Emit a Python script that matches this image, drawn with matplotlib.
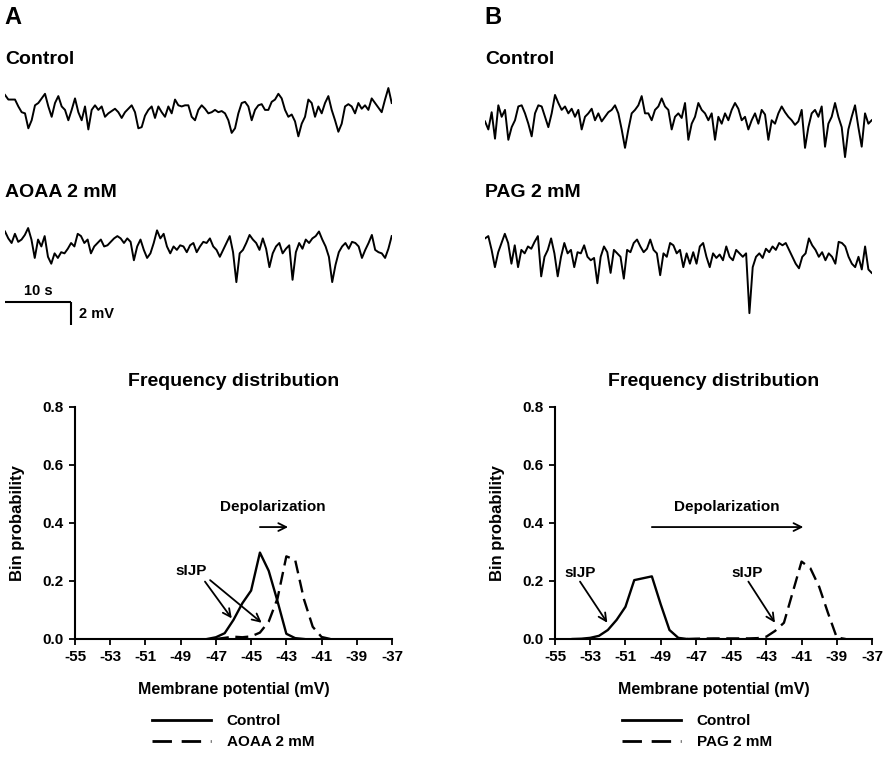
import numpy as np
import matplotlib
matplotlib.use("Agg")
import matplotlib.pyplot as plt
from matplotlib.lines import Line2D

plt.rcParams['font.family'] = ['Liberation Sans', 'DejaVu Sans']
plt.rcParams['font.weight'] = 'bold'
plt.rcParams['axes.labelweight'] = 'bold'
plt.rcParams['axes.unicode_minus'] = False

# ---------------- data: membrane potential traces (mV, relative) ----------------
TRACE_DURATION_S = 58.9
trace_a_control = [-1.3, -1.7, -1.7, -1.7, -2.3, -2.8, -2.9, -4.2, -3.5, -2.2,
                   -2.0, -1.6, -1.2, -2.3, -3.2, -2.0, -1.4, -2.3, -2.6, -3.5,
                   -2.6, -1.6, -2.8, -3.5, -2.3, -4.3, -2.6, -2.2, -2.6, -2.3,
                   -3.2, -2.9, -2.7, -2.5, -2.8, -3.3, -2.8, -2.5, -2.2, -2.8,
                   -4.2, -4.1, -3.1, -2.6, -2.3, -3.3, -2.3, -2.8, -3.2, -2.3,
                   -2.9, -1.7, -2.2, -2.3, -2.2, -2.2, -3.2, -3.5, -2.6, -2.2,
                   -2.5, -2.9, -2.8, -2.6, -2.8, -2.7, -2.9, -3.5, -4.6, -4.2,
                   -2.9, -2.0, -1.9, -2.3, -3.5, -2.6, -2.2, -2.1, -2.6, -2.6,
                   -1.9, -1.7, -1.2, -1.6, -2.6, -3.2, -3.0, -3.6, -4.9, -3.8,
                   -3.2, -1.7, -2.0, -3.2, -2.3, -2.9, -2.0, -1.4, -2.6, -3.5,
                   -4.5, -3.8, -2.3, -2.1, -2.3, -2.9, -2.0, -2.5, -2.2, -2.6,
                   -1.6, -2.0, -2.4, -2.8, -1.7, -0.7, -2.0]
trace_a_aoaa = [-1.0, -1.6, -2.0, -1.2, -1.9, -1.7, -1.3, -0.7, -1.7, -3.3,
                -1.7, -2.3, -1.4, -3.2, -3.8, -2.9, -3.3, -2.8, -2.9, -2.5,
                -2.0, -2.3, -1.2, -1.4, -2.0, -1.7, -2.9, -2.3, -2.0, -1.7,
                -2.3, -2.2, -1.9, -1.6, -1.4, -1.6, -2.0, -1.6, -1.9, -3.5,
                -2.3, -1.7, -2.6, -3.3, -2.9, -2.0, -0.9, -1.6, -1.2, -2.3,
                -2.9, -2.3, -2.6, -2.2, -2.3, -2.8, -2.2, -2.0, -2.8, -2.3,
                -1.9, -2.0, -1.6, -2.3, -2.6, -3.2, -2.6, -2.0, -1.4, -2.8,
                -5.4, -2.9, -2.6, -2.0, -1.3, -1.7, -2.0, -2.6, -1.6, -2.5,
                -4.1, -2.9, -2.3, -2.0, -2.9, -2.5, -2.2, -5.2, -2.8, -2.0,
                -2.5, -1.7, -2.0, -1.6, -1.4, -1.0, -1.7, -2.3, -3.2, -5.4,
                -3.9, -2.8, -2.3, -2.0, -2.5, -1.9, -2.0, -2.3, -3.3, -2.6,
                -2.0, -1.3, -2.6, -2.8, -2.9, -3.3, -2.5, -1.4]
trace_b_control = [-3.6, -4.3, -2.8, -5.1, -2.2, -3.2, -2.6, -5.2, -4.1, -3.5,
                   -2.3, -2.2, -2.9, -3.8, -4.9, -2.9, -2.2, -2.3, -3.2, -4.1,
                   -2.9, -1.3, -2.0, -2.6, -2.3, -2.9, -2.5, -3.2, -2.6, -4.3,
                   -3.2, -2.9, -2.5, -3.5, -2.9, -3.6, -3.2, -2.8, -2.6, -2.2,
                   -2.9, -4.3, -5.9, -4.3, -2.9, -2.6, -2.2, -1.4, -2.9, -2.9,
                   -3.5, -2.6, -2.3, -1.6, -2.3, -2.6, -4.3, -3.2, -2.9, -3.3,
                   -2.0, -5.2, -3.8, -3.2, -2.0, -2.6, -2.9, -3.5, -2.9, -5.2,
                   -3.2, -3.8, -2.9, -3.5, -2.6, -2.0, -2.5, -3.5, -3.2, -4.3,
                   -3.5, -2.9, -3.8, -2.6, -3.0, -5.2, -3.5, -3.8, -2.9, -2.3,
                   -2.8, -3.2, -3.5, -3.9, -3.6, -2.6, -5.9, -4.1, -2.9, -2.6,
                   -3.2, -2.3, -5.8, -3.8, -3.2, -2.0, -3.2, -4.1, -6.7, -4.3,
                   -3.2, -2.2, -4.1, -5.8, -2.9, -3.8, -3.5]
trace_b_pag = [-1.6, -1.4, -2.6, -4.1, -2.8, -2.0, -1.2, -2.0, -3.8, -2.2,
               -4.1, -2.6, -2.9, -2.3, -2.5, -1.9, -1.4, -4.9, -3.2, -2.6,
               -1.6, -2.9, -4.9, -3.2, -2.0, -2.9, -2.6, -4.1, -2.8, -2.9,
               -2.2, -3.2, -3.5, -3.3, -5.5, -3.2, -2.3, -2.8, -4.6, -2.6,
               -2.9, -3.2, -5.1, -2.6, -2.8, -2.0, -1.7, -2.3, -2.8, -2.5,
               -1.7, -2.6, -2.9, -4.8, -2.9, -3.2, -2.0, -2.2, -2.9, -2.6,
               -4.1, -2.9, -3.8, -2.8, -3.8, -2.3, -2.0, -3.2, -4.1, -2.9,
               -3.3, -3.0, -3.5, -2.3, -3.2, -3.5, -2.6, -2.9, -3.2, -2.9,
               -8.1, -4.1, -3.2, -2.9, -3.3, -2.5, -2.8, -2.3, -2.6, -2.0,
               -2.2, -2.0, -2.6, -3.2, -3.8, -4.2, -3.2, -2.9, -1.6, -2.2,
               -2.6, -3.2, -2.8, -3.5, -2.9, -3.2, -3.8, -1.9, -2.0, -2.3,
               -3.2, -3.8, -4.1, -3.2, -4.3, -2.3, -4.3, -4.6]

SCALE_T_S = 10
SCALE_V_MV = 2

# ---------------- data: frequency distributions ----------------
a_ctrl_mv = [-47.5, -47, -46.5, -46, -45.5, -45, -44.5, -44, -43.5, -43, -42.5, -42]
a_ctrl_p = [0.0, 0.006, 0.02, 0.066, 0.123, 0.167, 0.298, 0.235, 0.13, 0.018, 0.003, 0.0]
a_aoaa_mv = [-47, -46.5, -46, -45.5, -45, -44.5, -44, -43.5, -43, -42.5, -42, -41.5, -41, -40.5]
a_aoaa_p = [0.0, 0.004, 0.008, 0.006, 0.009, 0.022, 0.06, 0.14, 0.285, 0.273, 0.137, 0.042, 0.007, 0.0]
b_ctrl_mv = [-54, -53.5, -53, -52.5, -52, -51.5, -51, -50.5, -49.5, -49, -48.5, -48, -47.5]
b_ctrl_p = [0.0, 0.001, 0.004, 0.011, 0.031, 0.066, 0.111, 0.203, 0.216, 0.12, 0.031, 0.004, 0.0]
b_pag_mv = [-47.5, -47, -46, -45, -44, -43.5, -43, -42.5, -42, -41, -40.5, -40, -39.5, -39, -38.5]
b_pag_p = [0.0, 0.001, 0.002, 0.002, 0.002, 0.003, 0.008, 0.028, 0.056, 0.267, 0.244, 0.18, 0.09, 0.005, 0.0]

x_ticks = [-55, -53, -51, -49, -47, -45, -43, -41, -39, -37]
y_ticks = [0.0, 0.2, 0.4, 0.6, 0.8]

# ---------------- figure ----------------
W, H = 886, 760
fig = plt.figure(figsize=(W / 100, H / 100), dpi=100)


def px_axes(x0, y0, x1, y1):
    return fig.add_axes([x0 / W, 1 - y1 / H, (x1 - x0) / W, (y1 - y0) / H])


PX_PER_MV = 11.5


def trace_axes(x0, y0, x1, y1, values):
    ax = px_axes(x0, y0, x1, y1)
    t = np.linspace(0, TRACE_DURATION_S, len(values))
    ax.plot(t, values, color='black', lw=1.4)
    ax.set_xlim(0, TRACE_DURATION_S)
    ax.set_ylim(-(y1 - y0) / PX_PER_MV, 0)
    ax.axis('off')
    return ax


trace_axes(5, 80, 391.7, 140, trace_a_control)
ax_aoaa = trace_axes(5, 220, 391.7, 335, trace_a_aoaa)
trace_axes(485, 80, 871.7, 170, trace_b_control)
trace_axes(485, 220, 871.7, 320, trace_b_pag)

# scale bar
bar_v = -(302 - 220) / PX_PER_MV
ax_aoaa.plot([0, SCALE_T_S], [bar_v, bar_v], color='black', lw=1.5, solid_capstyle='butt')
ax_aoaa.plot([SCALE_T_S, SCALE_T_S], [bar_v, bar_v - SCALE_V_MV], color='black', lw=1.5,
             solid_capstyle='butt')
ax_aoaa.annotate(f'{SCALE_T_S} s', xy=(SCALE_T_S / 2, bar_v), xytext=(0, 3),
                 textcoords='offset points', ha='center', va='bottom', fontsize=10.5)
ax_aoaa.annotate(f'{SCALE_V_MV} mV', xy=(SCALE_T_S, bar_v - SCALE_V_MV / 2), xytext=(6, 0),
                 textcoords='offset points', ha='left', va='center', fontsize=10.5)

# panel letters and trace labels
fig.text(4 / W, 1 - 24 / H, 'A', fontsize=17, va='baseline', ha='left')
fig.text(484 / W, 1 - 24 / H, 'B', fontsize=17, va='baseline', ha='left')
fig.text(5 / W, 1 - 64 / H, 'Control', fontsize=14, va='baseline', ha='left')
fig.text(485 / W, 1 - 64 / H, 'Control', fontsize=14, va='baseline', ha='left')
fig.text(5 / W, 1 - 197 / H, 'AOAA 2 mM', fontsize=14, va='baseline', ha='left')
fig.text(485 / W, 1 - 197 / H, 'PAG 2 mM', fontsize=14, va='baseline', ha='left')


def dist_axes(x0, y0, x1, y1):
    ax = px_axes(x0, y0, x1, y1)
    ax.set_xlim(-55, -37)
    ax.set_ylim(0, 0.8)
    ax.set_xticks(x_ticks)
    ax.set_yticks(y_ticks)
    ax.set_yticklabels([f'{v:.1f}' for v in y_ticks])
    for s in ['top', 'right']:
        ax.spines[s].set_visible(False)
    for s in ['left', 'bottom']:
        ax.spines[s].set_linewidth(1.5)
    ax.tick_params(direction='out', length=4.5, width=1.3, labelsize=11, pad=3.5)
    ax.set_xlabel('Membrane potential (mV)', fontsize=11.5)
    ax.xaxis.set_label_coords(0.5, -0.185)
    ax.set_ylabel('Bin probability', fontsize=12)
    ax.yaxis.set_label_coords(-0.158, 0.5)
    ax.text(0.5, 1.108, 'Frequency distribution', transform=ax.transAxes,
            ha='center', va='center', fontsize=14)
    return ax


DASH = (0, (5.5, 2.8))
arrow_kw = dict(arrowstyle='->', lw=1.3, color='black', shrinkA=0, shrinkB=0,
                mutation_scale=14)

# Panel A distribution
axA = dist_axes(75, 407, 392, 639)
axA.plot(a_ctrl_mv, a_ctrl_p, color='black', lw=1.7)
axA.plot(a_aoaa_mv, a_aoaa_p, color='black', lw=1.7, linestyle=DASH)
axA.text(-43.76, 0.455, 'Depolarization', ha='center', va='center', fontsize=11)
axA.annotate('', xy=(-42.9, 0.386), xytext=(-44.5, 0.386), arrowprops=arrow_kw)
axA.text(-48.41, 0.234, 'sIJP', ha='center', va='center', fontsize=11)
axA.annotate('', xy=(-46.1, 0.071), xytext=(-47.62, 0.198), arrowprops=arrow_kw)
axA.annotate('', xy=(-44.4, 0.056), xytext=(-47.33, 0.203), arrowprops=arrow_kw)

# Panel B distribution
axB = dist_axes(555, 407, 872, 639)
axB.plot(b_ctrl_mv, b_ctrl_p, color='black', lw=1.7)
axB.plot(b_pag_mv, b_pag_p, color='black', lw=1.7, linestyle=DASH)
axB.text(-45.25, 0.456, 'Depolarization', ha='center', va='center', fontsize=11)
axB.annotate('', xy=(-40.9, 0.386), xytext=(-49.5, 0.386), arrowprops=arrow_kw)
axB.text(-53.58, 0.227, 'sIJP', ha='center', va='center', fontsize=11)
axB.annotate('', xy=(-52.03, 0.056), xytext=(-53.58, 0.198), arrowprops=arrow_kw)
axB.text(-44.11, 0.227, 'sIJP', ha='center', va='center', fontsize=11)
axB.annotate('', xy=(-42.51, 0.056), xytext=(-44.02, 0.198), arrowprops=arrow_kw)

# legends
for ax, x_left, label in [(axA, 151.7, 'AOAA 2 mM'), (axB, 621.7, 'PAG 2 mM')]:
    handles = [Line2D([], [], color='black', lw=2.0),
               Line2D([], [], color='black', lw=2.0, linestyle=(0, (7, 3.5)))]
    ax.legend(handles, ['Control', label], loc='upper left',
              bbox_to_anchor=(x_left / W, 1 - 714 / H), bbox_transform=fig.transFigure,
              frameon=False, borderpad=0, borderaxespad=0, handlelength=3.9,
              handletextpad=1.0, labelspacing=0.45, fontsize=11)

fig.savefig('out.png', dpi=100)
